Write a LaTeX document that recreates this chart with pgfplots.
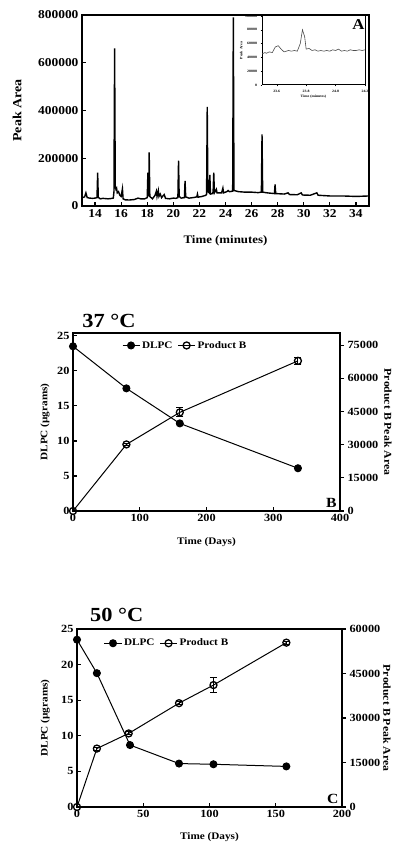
\documentclass[border=0pt]{standalone}
\usepackage{pgfplots}
\pgfplotsset{compat=1.18}
\usepackage{fontspec}
\setmainfont[FakeStretch=1.12]{Liberation Serif}
\pgfplotsset{
  myax/.style={
    scale only axis, anchor=south west,
    font=\bfseries\fontsize{11}{12}\selectfont,
    tick label style={font=\bfseries\fontsize{11}{12}\selectfont},
    /pgf/number format/assume math mode=true,
    /pgf/number format/1000 sep={},
    scaled ticks=false,
    yticklabel style={/pgf/number format/fixed,/pgf/number format/precision=0},
    axis line style={line width=1.5pt},
    every tick/.style={black, line width=1.2pt},
    major tick length=4pt,
    tick align=inside,
  },
  dl/.style={black, line width=1pt, mark=*, mark size=3.5pt},
  pb/.style={black, line width=1pt, mark=o, mark size=3.5pt, mark options={line width=1.3pt, fill=white}},
}
\begin{document}
\begin{tikzpicture}
\useasboundingbox (0pt,0pt) rectangle (396pt,844pt);
% ---------------- Panel A ----------------
\begin{axis}[myax, at={(82pt,638pt)}, width=287pt, height=191pt,
  xmin=13, xmax=35, ymin=0, ymax=800000,
  xtick={14,16,...,34}, ytick={0,200000,...,800000},
  xtick pos=bottom, ytick pos=left,
  tick label style={font=\bfseries\fontsize{12}{13}\selectfont},
  xlabel={Time (minutes)}, ylabel={Peak Area},
  xlabel style={at={(axis description cs:0.5,-0.18)}, anchor=center, font=\bfseries\fontsize{11.5}{12}\selectfont},
  ylabel style={at={(axis description cs:-0.226,0.5)}, anchor=center, font=\bfseries\fontsize{12.5}{13}\selectfont},
  clip mode=individual]
\addplot[black, line width=1.4pt] coordinates {
(13.0,35000) (13.2,38000) (13.3,55000) (13.4,35000) (13.6,33000) (13.8,32000)
(14.0,33000) (14.15,35000) (14.2,140000) (14.25,36000) (14.4,30000) (14.6,32000)
(14.8,31000) (15.0,30000) (15.2,31000) (15.4,33000) (15.45,60000) (15.5,660000)
(15.55,80000) (15.6,70000) (15.65,75000) (15.7,55000) (15.8,60000) (15.9,45000)
(16.0,40000) (16.1,72000) (16.15,30000) (16.3,26000) (16.6,25000) (17.0,27000)
(17.3,33000) (17.5,30000) (17.8,30000) (18.0,35000) (18.05,140000) (18.08,40000)
(18.12,60000) (18.15,225000) (18.2,40000) (18.4,30000) (18.6,45000) (18.7,62000)
(18.75,40000) (18.85,65000) (18.9,40000) (19.0,50000) (19.1,35000) (19.3,48000)
(19.4,32000) (19.7,30000) (20.0,33000) (20.2,32000) (20.35,35000) (20.4,190000)
(20.45,40000) (20.6,33000) (20.85,35000) (20.9,105000) (20.95,38000) (21.2,33000)
(21.5,35000) (21.8,38000) (21.85,50000) (21.9,37000) (22.2,40000) (22.5,45000)
(22.55,50000) (22.6,415000) (22.65,60000) (22.75,55000) (22.8,130000) (22.85,50000)
(23.0,52000) (23.05,60000) (23.1,140000) (23.15,55000) (23.3,70000) (23.35,55000)
(23.7,55000) (23.8,75000) (23.85,55000) (24.1,60000) (24.2,65000) (24.3,60000)
(24.55,62000) (24.6,790000) (24.65,65000) (25.0,60000) (25.5,58000) (26.0,58000)
(26.5,56000) (26.75,58000) (26.8,300000) (26.85,58000) (27.2,55000) (27.75,52000)
(27.8,90000) (27.85,52000) (28.5,50000) (28.8,55000) (28.9,48000) (29.5,47000)
(29.8,55000) (29.9,46000) (30.5,45000) (31.0,55000) (31.1,45000) (32,42000)
(33,42000) (34,40000) (35,42000)
};
\end{axis}
% inset
\begin{axis}[myax, at={(262pt,759pt)}, width=103pt, height=69pt,
  axis background/.style={fill=white},
  xmin=23.5, xmax=24.2, ymin=0, ymax=100000,
  xtick={23.6,23.8,24.0,24.2}, ytick={0,20000,...,100000},
  xtick pos=bottom, ytick pos=left, tick align=outside,
  major tick length=1.5pt,
  axis line style={line width=1pt},
  every tick/.style={black, line width=0.4pt},
  tick label style={font=\bfseries\fontsize{3.5}{4}\selectfont},
  xticklabel style={/pgf/number format/fixed,/pgf/number format/fixed zerofill,/pgf/number format/precision=1},
  xlabel={Time (minutes)}, ylabel={Peak Area},
  xlabel style={font=\bfseries\fontsize{3.5}{4}\selectfont, yshift=4pt},
  ylabel style={font=\bfseries\fontsize{3.5}{4}\selectfont, yshift=-4pt},
  clip mode=individual]
\addplot[black!70, line width=0.6pt] coordinates {
(23.50,45000) (23.52,47000) (23.53,46000) (23.55,48000) (23.57,47000) (23.59,55000)
(23.61,57000) (23.63,52000) (23.65,48000) (23.68,50000) (23.70,49000) (23.72,50000)
(23.74,49000) (23.76,60000) (23.775,80000) (23.79,70000) (23.80,52000) (23.82,53000)
(23.84,50000) (23.86,51000) (23.88,49000) (23.90,50000) (23.92,49000) (23.94,50000)
(23.96,49000) (23.98,51000) (24.00,50000) (24.02,52000) (24.04,49000) (24.06,50000)
(24.08,49000) (24.10,51000) (24.12,50000) (24.14,50000) (24.16,51000) (24.18,50000)
(24.20,51000)
};
\end{axis}
\node[font=\bfseries\fontsize{15}{15}\selectfont, anchor=north east] at (368pt,828pt) {A};
% ---------------- Panel B ----------------
\begin{axis}[myax, at={(73pt,333pt)}, width=267pt, height=178pt,
  xmin=0, xmax=400, ymin=0, ymax=25.4,
  xtick={0,100,...,400}, ytick={0,5,...,25},
  xtick pos=bottom, ytick pos=left,
  xlabel={Time (Days)}, ylabel={DLPC (µgrams)},
  xlabel style={at={(axis description cs:0.5,-0.174)}, anchor=center, font=\bfseries\fontsize{10}{11}\selectfont},
  ylabel style={at={(axis description cs:-0.105,0.5)}, anchor=center, font=\bfseries\fontsize{10}{11}\selectfont},
  clip mode=individual]
\addplot[dl] coordinates {(0,23.5) (80,17.5) (160,12.5) (337,6.1)};
\node[font=\bfseries\fontsize{20}{20}\selectfont] at (rel axis cs:0.135,1.065) {37 °C};
\node[font=\bfseries\fontsize{14}{14}\selectfont, anchor=south east] at (rel axis cs:1,0) {B};
\end{axis}
\begin{axis}[myax, at={(73pt,333pt)}, width=267pt, height=178pt,
  xmin=0, xmax=400, ymin=0, ymax=80500,
  axis x line=none, axis y line*=right, ytick pos=right, tick align=outside,
  ytick={0,15000,...,75000},
  ylabel={Product B Peak  Area},
  ylabel style={at={(axis description cs:1.18,0.5)}, anchor=center, rotate=180, font=\bfseries\fontsize{10.5}{11}\selectfont},
  legend style={at={(axis description cs:0.42,0.93)}, anchor=center, draw=none, fill=none,
    legend columns=2, font=\bfseries\fontsize{10}{11}\selectfont,
    /tikz/every even column/.append style={column sep=3pt}},
  clip mode=individual]
\addlegendimage{dl}
\addlegendentry{DLPC}
\addplot[pb, error bars/.cd, y dir=both, y explicit,
  error bar style={line width=1pt}, error mark options={rotate=90, mark size=3.5pt, line width=1pt}]
  coordinates {(0,0) +- (0,0) (80,30100) +- (0,500) (160,44600) +- (0,2000) (337,67900) +- (0,1500)};
\addlegendentry{Product B}
\end{axis}
% ---------------- Panel C ----------------
\begin{axis}[myax, at={(77pt,37pt)}, width=265pt, height=178pt,
  xmin=0, xmax=200, ymin=0, ymax=25,
  xtick={0,50,...,200}, ytick={0,5,...,25},
  xtick pos=bottom, ytick pos=left,
  xlabel={Time (Days)}, ylabel={DLPC (µgrams)},
  xlabel style={at={(axis description cs:0.5,-0.17)}, anchor=center, font=\bfseries\fontsize{10}{11}\selectfont},
  ylabel style={at={(axis description cs:-0.12,0.5)}, anchor=center, font=\bfseries\fontsize{10}{11}\selectfont},
  clip mode=individual]
\addplot[dl] coordinates {(0,23.5) (15,18.8) (40,8.7) (77,6.1) (103,6.0) (158,5.7)};
\node[font=\bfseries\fontsize{20}{20}\selectfont] at (rel axis cs:0.15,1.08) {50 °C};
\node[font=\bfseries\fontsize{14}{14}\selectfont, anchor=south east] at (rel axis cs:1,0) {C};
\end{axis}
\begin{axis}[myax, at={(77pt,37pt)}, width=265pt, height=178pt,
  xmin=0, xmax=200, ymin=0, ymax=60000,
  axis x line=none, axis y line*=right, ytick pos=right, tick align=outside,
  ytick={0,15000,...,60000},
  ylabel={Product B Peak  Area},
  ylabel style={at={(axis description cs:1.17,0.5)}, anchor=center, rotate=180, font=\bfseries\fontsize{10.5}{11}\selectfont},
  legend style={at={(axis description cs:0.34,0.92)}, anchor=center, draw=none, fill=none,
    legend columns=2, font=\bfseries\fontsize{10}{11}\selectfont,
    /tikz/every even column/.append style={column sep=3pt}},
  clip mode=individual]
\addlegendimage{dl}
\addlegendentry{DLPC}
\addplot[pb, error bars/.cd, y dir=both, y explicit,
  error bar style={line width=1pt}, error mark options={rotate=90, mark size=3.5pt, line width=1pt}]
  coordinates {(0,0) +- (0,0) (15,19700) +- (0,500) (39,24800) +- (0,500) (77,35000) +- (0,500) (103,41100) +- (0,2500) (158,55400) +- (0,500)};
\addlegendentry{Product B}
\end{axis}
\end{tikzpicture}
\end{document}
